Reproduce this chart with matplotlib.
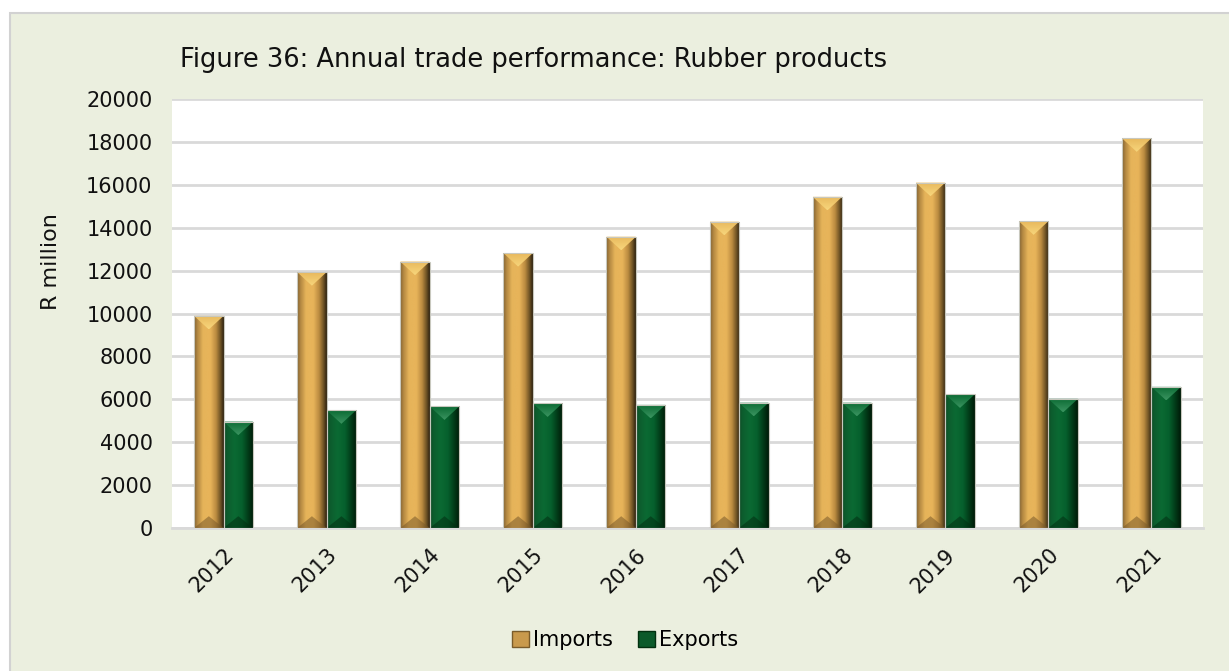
import numpy as np
import matplotlib.pyplot as plt
from matplotlib.colors import LinearSegmentedColormap
from matplotlib.patches import Rectangle, Patch

years = ['2012', '2013', '2014', '2015', '2016', '2017', '2018', '2019', '2020', '2021']
imports = [9890, 11930, 12420, 12820, 13580, 14280, 15440, 16100, 14300, 18170]
exports = [4960, 5490, 5670, 5810, 5740, 5840, 5840, 6230, 6020, 6580]

title = 'Figure 36: Annual trade performance: Rubber products'
ylabel = 'R million'

plt.rcParams['font.family'] = ['DejaVu Sans']

W, H = 1229, 671
fig = plt.figure(figsize=(W / 100, H / 100), dpi=100)
fig.patch.set_facecolor('white')
# light green frame behind everything
fig.patches.append(Rectangle((10 / W, -0.1), 1.1, 1.1 - 13 / H, transform=fig.transFigure,
                             facecolor='#EBEFDF', edgecolor='#D2D2D2', lw=1.5, zorder=-10))

ax = fig.add_axes([172 / W, 1 - 528 / H, (1203 - 172) / W, (528 - 99) / H])
ax.set_facecolor('white')

imp_cmap = LinearSegmentedColormap.from_list('imp', [
    (0.0, '#7E6030'), (0.1, '#B08540'), (0.3, '#E6B45A'), (0.55, '#E8B45A'),
    (0.75, '#B8893F'), (0.9, '#6A5024'), (1.0, '#2E2210')])
exp_cmap = LinearSegmentedColormap.from_list('exp', [
    (0.0, '#0E4A24'), (0.1, '#0D5C2E'), (0.35, '#0B6A33'), (0.6, '#06602D'),
    (0.8, '#023E1A'), (1.0, '#001A08')])
imp_top = LinearSegmentedColormap.from_list('impt', ['#E8B85C', '#F7D67C'])
exp_top = LinearSegmentedColormap.from_list('expt', ['#0B6A33', '#3A9460'])

x = np.arange(len(years))
w = 0.286
ymax = 20000
ax.set_xlim(-0.5, len(years) - 0.5)
ax.set_ylim(0, ymax)

# pixel scales for the bevel shapes
px_x = (1203 - 172) / len(years)
px_y = (528 - 99) / ymax
depth = 0.46 * w * px_x / px_y
bdepth = 0.4 * w * px_x / px_y

grad = np.linspace(0, 1, 64).reshape(1, -1)
vgrad = np.linspace(0, 1, 32).reshape(-1, 1)


def bevel_bars(bars, cmap, tcmap, bot_col):
    for p in bars:
        x0, w0, h0 = p.get_x(), p.get_width(), p.get_height()
        xc = x0 + w0 / 2
        im = ax.imshow(grad, cmap=cmap, extent=[x0, x0 + w0, 0, h0], aspect='auto',
                       interpolation='bicubic', zorder=3)
        im.set_clip_path(p)
        tri = ax.fill([x0, x0 + w0, xc], [h0, h0, h0 - depth], color='none', lw=0, zorder=4)[0]
        tim = ax.imshow(vgrad, cmap=tcmap, extent=[x0, x0 + w0, h0 - depth, h0], aspect='auto',
                        interpolation='bicubic', zorder=4, origin='upper')
        tim.set_clip_path(tri)
        ax.fill([x0, x0 + w0, xc], [0, 0, bdepth], color=bot_col, lw=0, zorder=4, alpha=0.55)
        ax.add_patch(Rectangle((x0, 0), w0, h0, fill=False, edgecolor='#C8C8BE', lw=0.8, zorder=5))


b_imp = ax.bar(x - w / 2, imports, w, color='none', zorder=2)
b_exp = ax.bar(x + w / 2, exports, w, color='none', zorder=2)
bevel_bars(b_imp, imp_cmap, imp_top, '#7A5A2A')
bevel_bars(b_exp, exp_cmap, exp_top, '#022E12')
ax.set_xlim(-0.5, len(years) - 0.5)
ax.set_ylim(0, ymax)

ax.set_yticks(np.arange(0, ymax + 1, 2000))
ax.yaxis.grid(True, color='#D9D9D9', lw=2)
ax.set_axisbelow(True)
for s in ['top', 'right', 'left']:
    ax.spines[s].set_visible(False)
ax.spines['bottom'].set_color('#D9D9D9')
ax.spines['bottom'].set_linewidth(2)
ax.tick_params(length=0, labelsize=15, colors='#111111')
ax.tick_params(axis='y', pad=14)
ax.set_xticks(x)
ax.set_xticklabels(years, rotation=45, ha='right', rotation_mode='anchor')
ax.tick_params(axis='x', pad=12)

ax.set_ylabel(ylabel, fontsize=16, color='#111111')
ax.yaxis.set_label_coords(-0.108, 0.62)

fig.text(180 / W, 1 - 60 / H, title, fontsize=18.5, color='#111111', va='center', ha='left')

handles = [Patch(facecolor='#C99A4C', edgecolor='#7A5C2A', label='Imports'),
           Patch(facecolor='#0B5A2A', edgecolor='#02300F', label='Exports')]
fig.legend(handles=handles, loc='center', bbox_to_anchor=(625 / W, 1 - 640 / H), ncol=2,
           frameon=False, fontsize=15, handlelength=0.8, handleheight=0.8,
           handletextpad=0.2, columnspacing=1.2)

fig.savefig('out.png', dpi=100, facecolor=fig.get_facecolor())
